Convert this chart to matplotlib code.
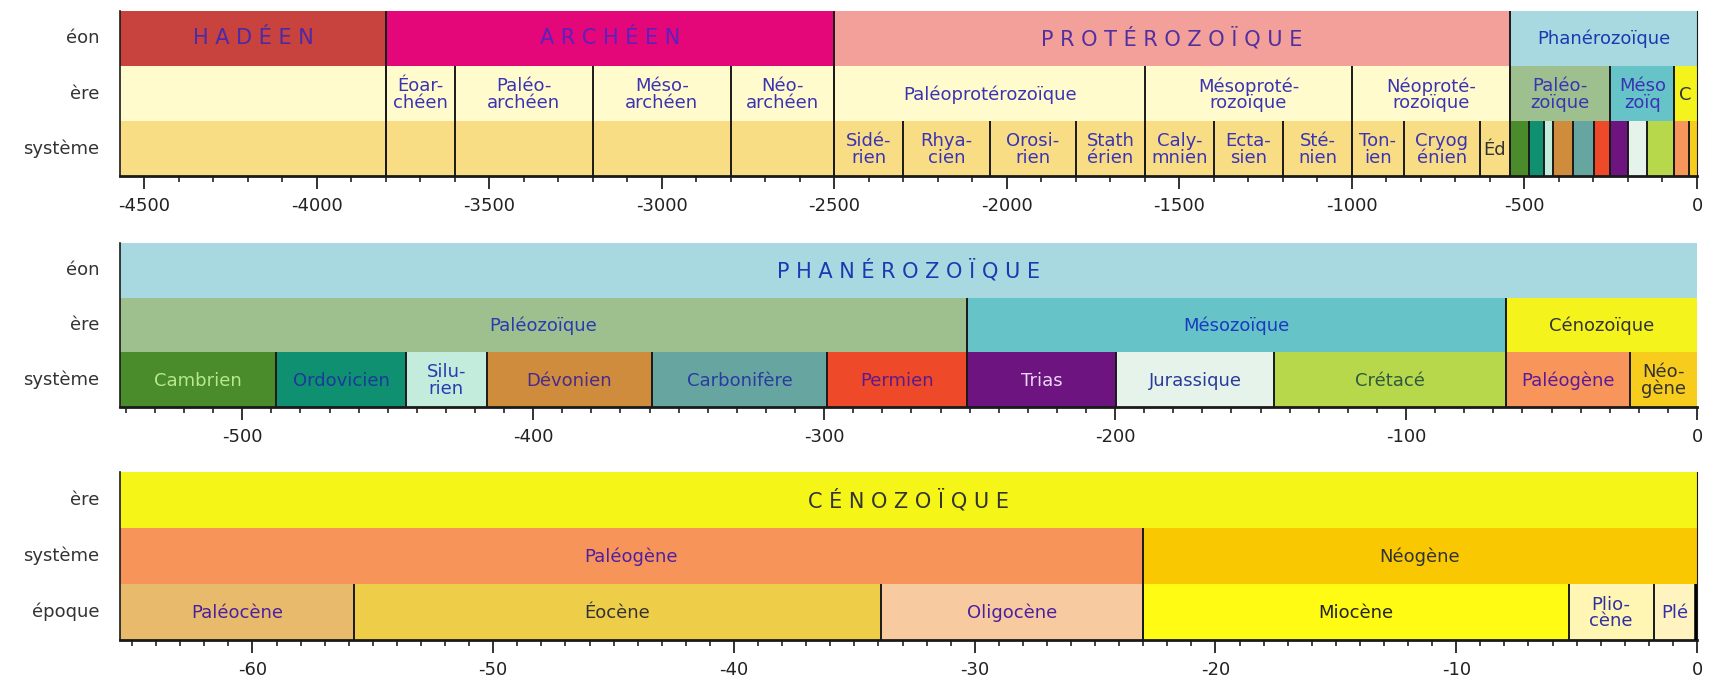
import matplotlib.pyplot as plt
from matplotlib.ticker import MultipleLocator

plt.rcParams['font.family'] = ['Liberation Sans Narrow', 'DejaVu Sans']
plt.rcParams['axes.unicode_minus'] = False

# ---------- panel 1 : whole history (Ma) ----------
p1_eon_names = ['H A D É E N', 'A R C H É E N', 'P R O T É R O Z O Ï Q U E', 'Phanérozoïque']
p1_eon_bounds = [-4570, -3800, -2500, -542, 0]
p1_eon_colors = ['#c8423e', '#e3077a', '#f3a09a', '#a8d8e0']
p1_eon_text = ['#4a2aa8', '#5a20c0', '#5030a0', '#1a3ab0']

p1_era_names = ['', 'Éoar-\nchéen', 'Paléo-\narchéen', 'Méso-\narchéen', 'Néo-\narchéen',
                'Paléoprotérozoïque', 'Mésoproté-\nrozoïque', 'Néoproté-\nrozoïque',
                'Paléo-\nzoïque', 'Méso\nzoïq', 'C']
p1_era_bounds = [-4570, -3800, -3600, -3200, -2800, -2500, -1600, -1000, -542, -251, -65.5, 0]
p1_era_colors = ['#fffbcc'] * 8 + ['#9dc08e', '#66c4c8', '#f4f41c']
p1_era_text = ['#3a34b4'] * 10 + ['#333333']

p1_sys_names = ['', 'Sidé-\nrien', 'Rhya-\ncien', 'Orosi-\nrien', 'Stath\nérien', 'Caly-\nmnien',
                'Ecta-\nsien', 'Sté-\nnien', 'Ton-\nien', 'Cryog\nénien', 'Éd',
                '', '', '', '', '', '', '', '', '', '', '']
p1_sys_bounds = [-4570, -2500, -2300, -2050, -1800, -1600, -1400, -1200, -1000, -850, -630, -542,
                 -488.3, -443.7, -416, -359.2, -299, -251, -199.6, -145.5, -65.5, -23.03, 0]
phan_sys_colors = ['#4a8b2c', '#0f9070', '#c4ecdc', '#cf8c3c', '#67a6a0', '#ee4a2a',
                   '#6e1480', '#e6f3ea', '#b8d84c', '#f7955a', '#f8cc1c']
p1_sys_colors = ['#f8dd84'] * 11 + phan_sys_colors
p1_sys_text = ['#3a34b4'] * 10 + ['#333333'] + ['#333333'] * 11

# ---------- panel 2 : Phanérozoïque ----------
p2_eon_names = ['P H A N É R O Z O Ï Q U E']
p2_eon_bounds = [-542, 0]
p2_eon_colors = ['#a8d8e0']
p2_eon_text = ['#1a3ab0']

p2_era_names = ['Paléozoïque', 'Mésozoïque', 'Cénozoïque']
p2_era_bounds = [-542, -251, -65.5, 0]
p2_era_colors = ['#9dc08e', '#66c4c8', '#f4f41c']
p2_era_text = ['#2a3ab0', '#1a3ac0', '#333333']

p2_sys_names = ['Cambrien', 'Ordovicien', 'Silu-\nrien', 'Dévonien', 'Carbonifère', 'Permien',
                'Trias', 'Jurassique', 'Crétacé', 'Paléogène', 'Néo-\ngène']
p2_sys_bounds = [-542, -488.3, -443.7, -416, -359.2, -299, -251, -199.6, -145.5, -65.5, -23.03, 0]
p2_sys_colors = phan_sys_colors
p2_sys_text = ['#b8e890', '#1a3a9a', '#2a3ab0', '#4a2a8a', '#2a3aa0', '#5a1a8a',
               '#e8d8f4', '#2a3a9a', '#2f5a40', '#5a1a9a', '#333333']

# ---------- panel 3 : Cénozoïque ----------
p3_era_names = ['C É N O Z O Ï Q U E']
p3_era_bounds = [-65.5, 0]
p3_era_colors = ['#f5f518']
p3_era_text = ['#333333']

p3_sys_names = ['Paléogène', 'Néogène']
p3_sys_bounds = [-65.5, -23.03, 0]
p3_sys_colors = ['#f6945a', '#f9c800']
p3_sys_text = ['#5020a0', '#333333']

p3_epo_names = ['Paléocène', 'Éocène', 'Oligocène', 'Miocène', 'Plio-\ncène', 'Plé', '']
p3_epo_bounds = [-65.5, -55.8, -33.9, -23.03, -5.332, -1.806, -0.0117, 0]
p3_epo_colors = ['#e8bb6c', '#eecd48', '#f7caa0', '#fffb12', '#fff6b4', '#fff3c0', '#000000']
p3_epo_text = ['#4a20a0', '#333333', '#4a20a0', '#222222', '#3030a0', '#3030b0', '#000000']

fig = plt.figure(figsize=(17.1, 6.87), dpi=100)


def draw_row(ax, row, bounds, names, colors, tcolors, fs=13, spaced=False):
    for i, name in enumerate(names):
        x0, x1 = bounds[i], bounds[i + 1]
        ax.barh(row + 0.5, x1 - x0, left=x0, height=1, color=colors[i], linewidth=0, zorder=1)
        if i > 0:
            ax.vlines(x0, row, 3, color='#1a1a1a', lw=1.4, zorder=3)
        if name:
            if spaced:
                ax.text((x0 + x1) / 2, row + 0.5, name, ha='center', va='center',
                        color=tcolors[i], fontsize=15, family='DejaVu Sans', zorder=4)
            else:
                ax.text((x0 + x1) / 2, row + 0.52, name, ha='center', va='center',
                        color=tcolors[i], fontsize=fs, linespacing=0.9, zorder=4)
    if colors[-1] == '#000000':
        ax.vlines(bounds[-1], row, row + 1, color='black', lw=4, zorder=3)


def setup(ax, xmin, major, minor, row_labels, right=False):
    ax.set_xlim(xmin, 0)
    ax.set_ylim(3, 0)
    ax.set_yticks([])
    ax.xaxis.set_major_locator(MultipleLocator(major))
    ax.xaxis.set_minor_locator(MultipleLocator(minor))
    ax.tick_params(axis='x', which='major', direction='out', length=9, width=1.3,
                   labelsize=13, pad=6, colors='#222222')
    ax.tick_params(axis='x', which='minor', direction='out', length=4, width=1.2, colors='#222222')
    ax.spines['top'].set_visible(False)
    ax.spines['right'].set_visible(right)
    ax.spines['bottom'].set_linewidth(2)
    ax.spines['left'].set_linewidth(1.2)
    for s in ax.spines.values():
        s.set_color('#1a1a1a')
    for i, lab in enumerate(row_labels):
        ax.text(-0.013, 1 - (i + 0.5) / 3, lab, transform=ax.transAxes, ha='right',
                va='center', fontsize=13, color='#333333')


# panel 1
ax1 = fig.add_axes([0.0702, 0.7438, 0.9222, 0.2402])
draw_row(ax1, 0, p1_eon_bounds, p1_eon_names, p1_eon_colors, p1_eon_text, spaced=True)
ax1.texts[-1].set_fontsize(13)
ax1.texts[-1].set_family('Liberation Sans Narrow')
draw_row(ax1, 1, p1_era_bounds, p1_era_names, p1_era_colors, p1_era_text)
draw_row(ax1, 2, p1_sys_bounds, p1_sys_names, p1_sys_colors, p1_sys_text)
setup(ax1, -4570, 500, 100, ['éon', 'ère', 'système'], right=True)

# panel 2
ax2 = fig.add_axes([0.0702, 0.4076, 0.9222, 0.2387])
draw_row(ax2, 0, p2_eon_bounds, p2_eon_names, p2_eon_colors, p2_eon_text, spaced=True)
draw_row(ax2, 1, p2_era_bounds, p2_era_names, p2_era_colors, p2_era_text)
draw_row(ax2, 2, p2_sys_bounds, p2_sys_names, p2_sys_colors, p2_sys_text)
setup(ax2, -542, 100, 10, ['éon', 'ère', 'système'])

# panel 3
ax3 = fig.add_axes([0.0702, 0.0684, 0.9222, 0.2446])
draw_row(ax3, 0, p3_era_bounds, p3_era_names, p3_era_colors, p3_era_text, spaced=True)
draw_row(ax3, 1, p3_sys_bounds, p3_sys_names, p3_sys_colors, p3_sys_text)
draw_row(ax3, 2, p3_epo_bounds, p3_epo_names, p3_epo_colors, p3_epo_text)
setup(ax3, -65.5, 10, 1, ['ère', 'système', 'époque'], right=True)

fig.savefig('out.png', dpi=100, facecolor='white')
